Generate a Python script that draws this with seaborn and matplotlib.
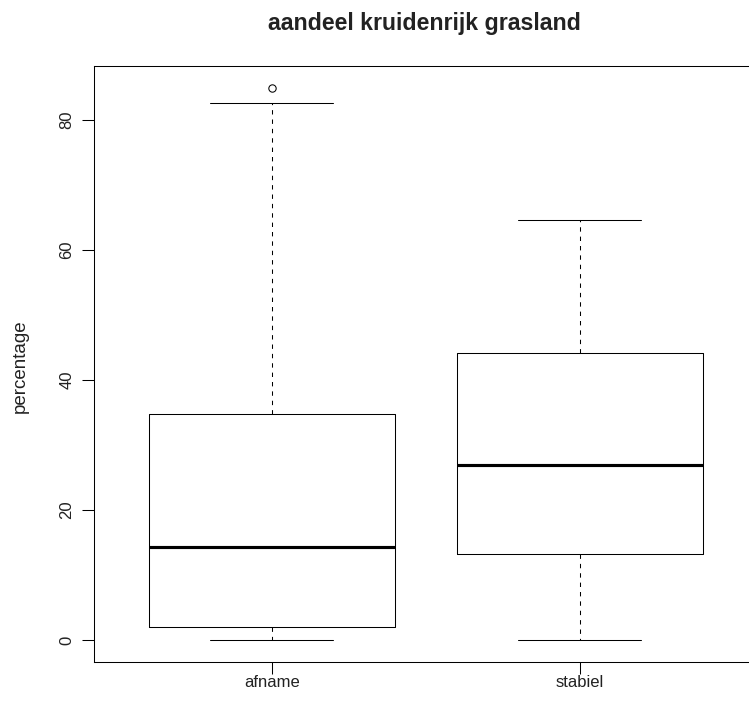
import matplotlib
matplotlib.use("Agg")
import matplotlib.pyplot as plt
import seaborn as sns

# Five-number summaries per group (percentage of herb-rich grassland)
groups = ["afname", "stabiel"]
whisker_low = [0.0, 0.0]
q1 = [2.0, 13.2]
median = [14.25, 26.85]
q3 = [34.7, 44.1]
whisker_high = [82.55, 64.6]
outliers = [[84.9], []]
y_ticks = [0, 20, 40, 60, 80]

sns.set_theme(style="white")
plt.rcParams["font.family"] = ["Liberation Sans", "DejaVu Sans"]

W, H = 749, 711
fig = plt.figure(figsize=(W / 100, H / 100), dpi=100)
fig.patch.set_facecolor("white")

# plot region in pixels (right side runs past the figure edge)
left, right, top, bottom = 93.6, 757.9, 66.0, 662.0
ax = fig.add_axes([left / W, 1 - bottom / H, (right - left) / W, (bottom - top) / H])
ax.set_facecolor("white")

stats = []
for g, lo, a, m, b, hi, fl in zip(groups, whisker_low, q1, median, q3, whisker_high, outliers):
    stats.append(dict(label=g, whislo=lo, q1=a, med=m, q3=b, whishi=hi, fliers=fl))

ax.bxp(
    stats,
    positions=[1, 2],
    widths=0.8,
    capwidths=0.4,
    showfliers=True,
    boxprops=dict(color="black", lw=0.75),
    whiskerprops=dict(color="black", lw=0.75, linestyle=(0, (4.2, 4.8))),
    capprops=dict(color="black", lw=0.75),
    medianprops=dict(color="black", lw=2.25, solid_capstyle="butt"),
    flierprops=dict(marker="o", markerfacecolor="none", markeredgecolor="black",
                    markersize=5.3, markeredgewidth=0.75),
)

# R-style 4% padding around data range
ax.set_xlim(0.42, 2.58)
ax.set_ylim(-3.396, 88.29)
ax.set_yticks(y_ticks)
ax.set_yticklabels([str(t) for t in y_ticks], rotation=90, va="center")
ax.set_xticks([1, 2])
ax.set_xticklabels(groups)

for s in ax.spines.values():
    s.set_color("black")
    s.set_linewidth(0.75)
    s.set_visible(True)

ax.tick_params(axis="both", direction="out", length=8.4, width=0.75,
               color="black", labelcolor="#222222", labelsize=12,
               left=True, bottom=True)
ax.tick_params(axis="y", pad=5.5)
ax.tick_params(axis="x", pad=1.0)

fig.text(424.5 / W, 1 - 30 / H, "aandeel kruidenrijk grasland",
         ha="center", va="baseline", fontsize=16.7, fontweight="bold", color="#222222")
fig.text(20 / W, 1 - 366 / H, "percentage", rotation=90, ha="center", va="center",
         fontsize=13.5, color="#222222")

fig.savefig("out.png", dpi=100)
